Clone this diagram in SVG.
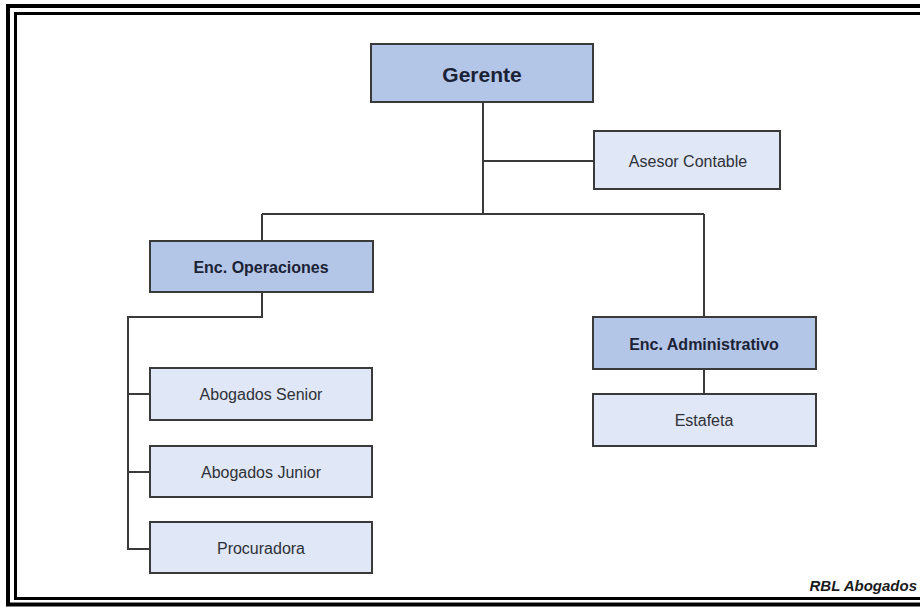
<svg xmlns="http://www.w3.org/2000/svg" width="920" height="607" viewBox="0 0 920 607">
<style>
.frame{fill:none;stroke:#000}
.dark rect{fill:#b4c6e7;stroke:#3a3a3a;stroke-width:2}
.light rect{fill:#e0e7f6;stroke:#3a3a3a;stroke-width:2}
.conn{fill:none;stroke:#3a3a3a;stroke-width:2}
text{font-family:"Liberation Sans",Arial,sans-serif;text-anchor:middle;dominant-baseline:central}
.dark text{font-weight:bold;fill:#1b2236;font-size:16px}
.light text{fill:#2e3138;font-size:16px}
</style>
<rect x="0" y="0" width="920" height="607" fill="#fff"/>
<path class="frame" stroke-width="4" d="M925,6 H8 V604.5 H925"/>
<path class="frame" stroke-width="3" d="M925,13.5 H15.5 V598.5 H925"/>
<g id="connectors" class="conn">
<path d="M483,102 V214"/>
<path d="M483,161 H594"/>
<path d="M262,214 H704"/>
<path d="M262,214 V241"/>
<path d="M704,214 V317"/>
<path d="M262,292 V317 H128 V549 H150"/>
<path d="M128,394 H150"/>
<path d="M128,472 H150"/>
<path d="M704,369 V394"/>
</g>
<g id="gerente" class="dark"><rect x="371" y="44" width="222" height="58"/><text x="482" y="74" style="font-size:21px">Gerente</text></g>
<g id="asesor" class="light"><rect x="594" y="131" width="186" height="58"/><text x="688" y="161">Asesor Contable</text></g>
<g id="operaciones" class="dark"><rect x="150" y="241" width="223" height="51"/><text x="261" y="267">Enc. Operaciones</text></g>
<g id="administrativo" class="dark"><rect x="593" y="317" width="223" height="52"/><text x="704" y="344">Enc. Administrativo</text></g>
<g id="estafeta" class="light"><rect x="593" y="394" width="223" height="52"/><text x="704" y="420">Estafeta</text></g>
<g id="senior" class="light"><rect x="150" y="368" width="222" height="52"/><text x="261" y="394">Abogados Senior</text></g>
<g id="junior" class="light"><rect x="150" y="446" width="222" height="51"/><text x="261" y="472">Abogados Junior</text></g>
<g id="procuradora" class="light"><rect x="150" y="522" width="222" height="51"/><text x="261" y="548">Procuradora</text></g>
<text x="917" y="585" style="text-anchor:end;font-weight:bold;font-style:italic;font-size:15px;fill:#1b1b1b">RBL Abogados</text>
</svg>
